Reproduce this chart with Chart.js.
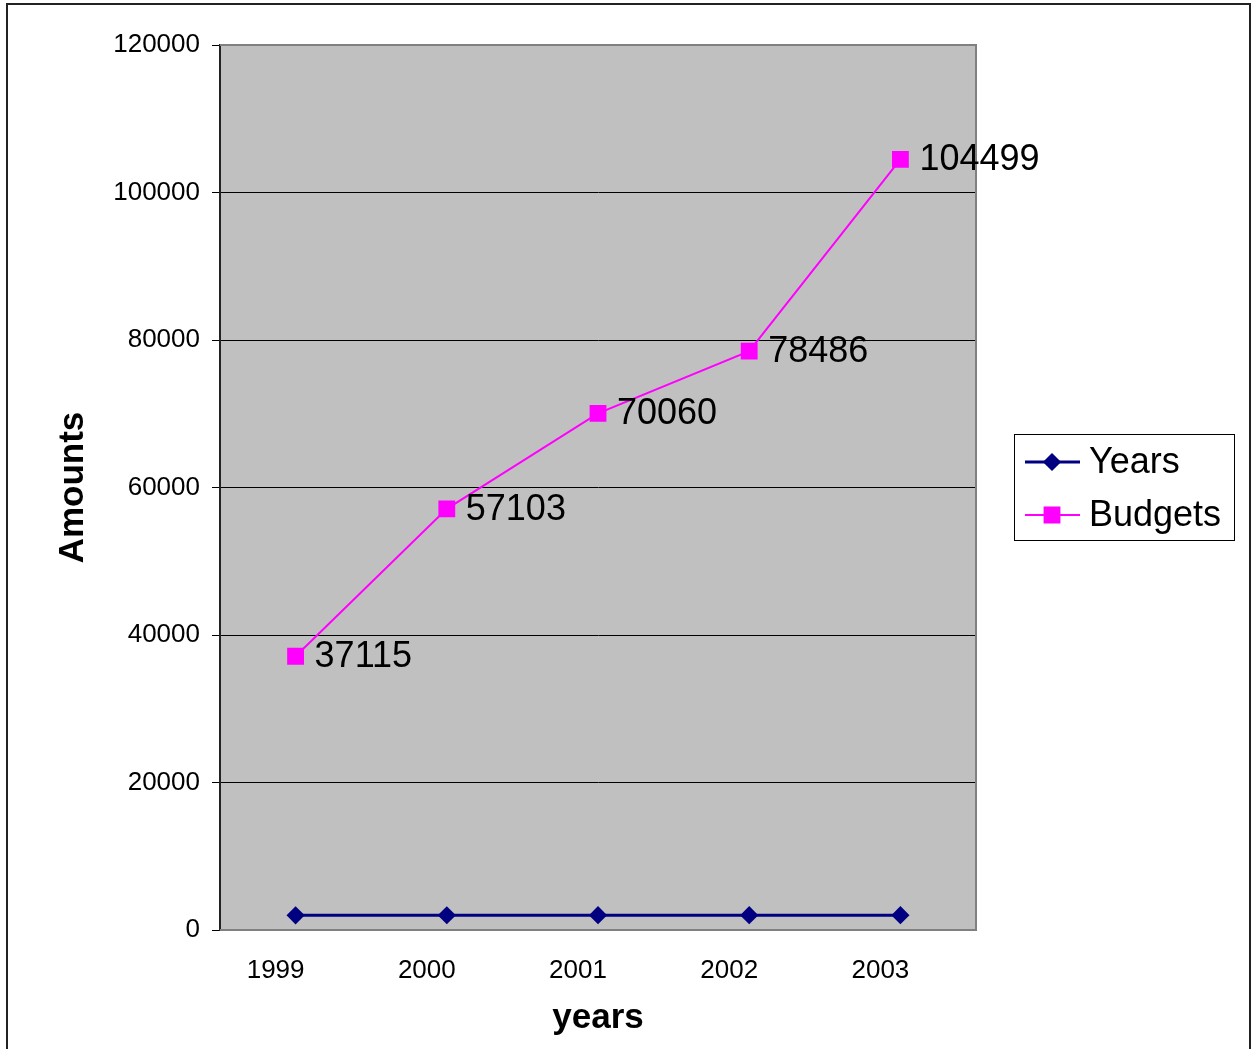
<!DOCTYPE html>
<html lang="en">
<head>
<meta charset="UTF-8">
<title>Amounts by years</title>
<style>
    body { margin: 0; background: #fff; }
    .wrap { position: relative; width: 1253px; height: 1049px; overflow: hidden; }
    .frame {
        position: absolute; left: 6px; top: 3px; width: 1241px; height: 1100px;
        border: 2px solid #222; pointer-events: none;
    }
    canvas { position: absolute; left: 0; top: 0; }
</style>
</head>
<body>
<div class="wrap">
    <canvas id="myChart" width="1253" height="1049"></canvas>
    <div class="frame"></div>
</div>

<script src="https://cdn.jsdelivr.net/npm/chart.js"></script>
<script>
    // data
    var categories = ['1999', '2000', '2001', '2002', '2003'];
    var yearsValues = [1999, 2000, 2001, 2002, 2003];
    var budgetValues = [37115, 57103, 70060, 78486, 104499];
    var yTicks = [0, 20000, 40000, 60000, 80000, 100000, 120000];

    var fontFamily = '"Liberation Sans", Arial, sans-serif';

    // gray plot area with gray frame (Excel style)
    var plotArea = {
        id: 'plotArea',
        beforeDraw: function(chart) {
            var a = chart.chartArea, ctx = chart.ctx;
            ctx.save();
            ctx.fillStyle = '#c0c0c0';
            ctx.fillRect(a.left, a.top, a.right - a.left, a.bottom - a.top);
            ctx.restore();
        },
        beforeDatasetsDraw: function(chart) {
            var a = chart.chartArea, ctx = chart.ctx;
            ctx.save();
            ctx.strokeStyle = '#808080';
            ctx.lineWidth = 2;
            ctx.beginPath();
            ctx.moveTo(a.left, a.top);
            ctx.lineTo(a.right, a.top);
            ctx.lineTo(a.right, a.bottom);
            ctx.lineTo(a.left, a.bottom);
            ctx.stroke();
            ctx.restore();
        }
    };

    // value labels next to the Budgets points
    var valueLabels = {
        id: 'valueLabels',
        afterDatasetsDraw: function(chart) {
            var ctx = chart.ctx;
            var meta = chart.getDatasetMeta(1);
            ctx.save();
            ctx.font = '36px ' + fontFamily;
            ctx.fillStyle = '#000';
            ctx.textAlign = 'left';
            ctx.textBaseline = 'middle';
            meta.data.forEach(function(pt, i) {
                ctx.fillText(String(budgetValues[i]), pt.x + 19, pt.y + 1);
            });
            ctx.restore();
        }
    };

    // legend box with line + marker
    var boxLegend = {
        id: 'boxLegend',
        afterDraw: function(chart) {
            var ctx = chart.ctx;
            var box = { x: 1014, y: 434, w: 220, h: 106 };
            ctx.save();
            ctx.fillStyle = '#fff';
            ctx.fillRect(box.x, box.y, box.w, box.h);
            ctx.strokeStyle = '#000';
            ctx.lineWidth = 1;
            ctx.strokeRect(box.x + 0.5, box.y + 0.5, box.w, box.h);
            chart.data.datasets.forEach(function(ds, i) {
                var cy = box.y + 28 + i * 53;
                ctx.strokeStyle = ds.borderColor;
                ctx.lineWidth = ds.borderWidth;
                ctx.beginPath();
                ctx.moveTo(box.x + 11, cy);
                ctx.lineTo(box.x + 66, cy);
                ctx.stroke();
                Chart.helpers.drawPoint(ctx, {
                    pointStyle: ds.pointStyle,
                    radius: ds.pointRadius,
                    borderWidth: 1
                }, box.x + 38, cy);
                ctx.fillStyle = ds.pointBackgroundColor;
                ctx.fill();
                ctx.fillStyle = '#000';
                ctx.font = '36px ' + fontFamily;
                ctx.textAlign = 'left';
                ctx.textBaseline = 'middle';
                ctx.fillText(ds.label, box.x + 75, cy + 1);
            });
            ctx.restore();
        }
    };

    var ctx = document.getElementById('myChart').getContext('2d');
    var myChart = new Chart(ctx, {
        type: 'line',
        data: {
            labels: categories,
            datasets: [
                {
                    label: 'Years',
                    data: yearsValues,
                    borderColor: '#000080',
                    backgroundColor: '#000080',
                    pointBackgroundColor: '#000080',
                    pointBorderColor: '#000080',
                    borderWidth: 3,
                    pointStyle: 'rectRot',
                    pointRadius: 7,
                    tension: 0
                },
                {
                    label: 'Budgets',
                    data: budgetValues,
                    borderColor: '#ff00ff',
                    backgroundColor: '#ff00ff',
                    pointBackgroundColor: '#ff00ff',
                    pointBorderColor: '#ff00ff',
                    borderWidth: 2,
                    pointStyle: 'rect',
                    pointRadius: 10.5,
                    tension: 0
                }
            ]
        },
        options: {
            responsive: false,
            animation: false,
            events: [],
            layout: { padding: { top: 45, right: 277, bottom: 0, left: 0 } },
            plugins: {
                legend: { display: false },
                tooltip: { enabled: false }
            },
            scales: {
                x: {
                    offset: true,
                    grid: { display: false, drawTicks: false, tickLength: 0 },
                    border: { display: false },
                    ticks: {
                        color: '#000',
                        padding: 25,
                        labelOffset: -20,
                        maxRotation: 0,
                        font: { family: fontFamily, size: 26 }
                    },
                    title: {
                        display: true,
                        text: 'years',
                        color: '#000',
                        padding: { top: 0, bottom: 10 },
                        font: { family: fontFamily, size: 35, weight: 'bold' }
                    },
                    afterFit: function(scale) { scale.height = 119; }
                },
                y: {
                    min: 0,
                    max: 120000,
                    afterBuildTicks: function(scale) {
                        scale.ticks = yTicks.map(function(v) { return { value: v }; });
                    },
                    grid: {
                        color: function(c) {
                            return (c.tick && (c.tick.value === 0 || c.tick.value === 120000)) ? '#808080' : '#000';
                        },
                        tickColor: '#000',
                        tickLength: 8,
                        lineWidth: 1
                    },
                    border: { display: true, color: '#222', width: 2 },
                    ticks: {
                        color: '#000',
                        padding: 12,
                        font: { family: fontFamily, size: 26 },
                        callback: function(value) { return String(value); }
                    },
                    title: {
                        display: true,
                        text: 'Amounts',
                        color: '#000',
                        padding: { top: 52, bottom: 0 },
                        font: { family: fontFamily, size: 35, weight: 'bold' }
                    },
                    afterFit: function(scale) { scale.width = 220; }
                }
            }
        },
        plugins: [plotArea, valueLabels, boxLegend]
    });
</script>
</body>
</html>
